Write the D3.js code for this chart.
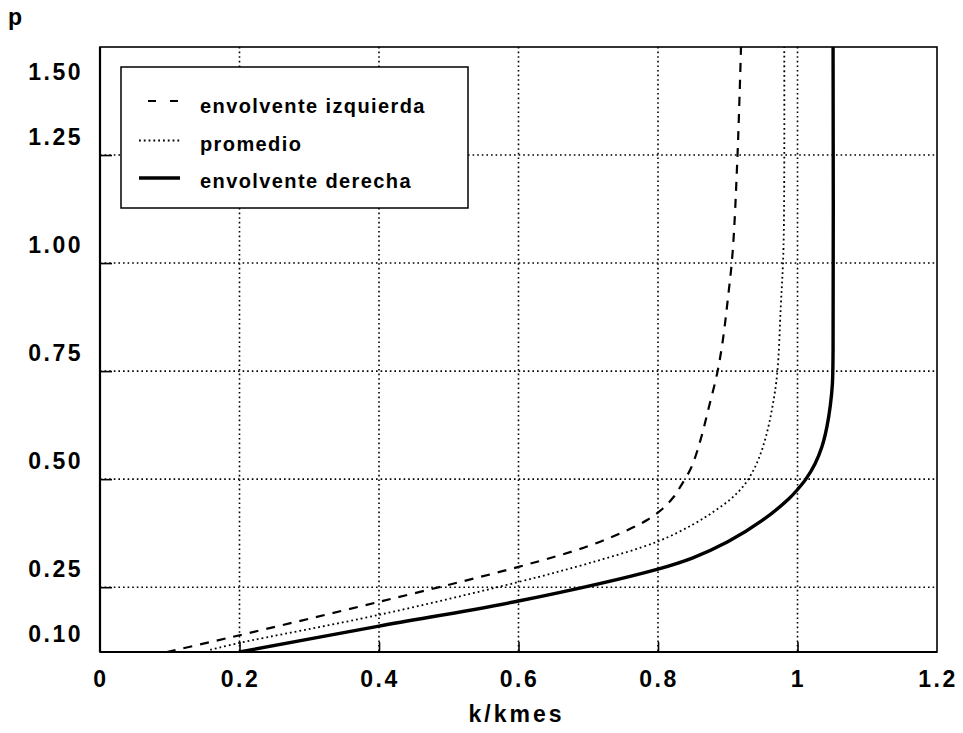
<!DOCTYPE html>
<html>
<head>
<meta charset="utf-8">
<script src="https://d3js.org/d3.v7.min.js"></script>
<style>
  body { margin: 0; background: #fff; }
  text { font-family: "Liberation Sans", Arial, sans-serif; font-weight: bold; fill: #000; }
</style>
</head>
<body>
<div id="chart"></div>
<script>
// k/kmes values (x) and p values (y)
var izqK = [0.096, 0.19, 0.4, 0.6, 0.7, 0.756, 0.785, 0.807, 0.822, 0.833, 0.848, 0.861, 0.873, 0.885, 0.893, 0.900, 0.907, 0.914, 0.919];
var izqP = [0.10, 0.135, 0.216, 0.297, 0.345, 0.382, 0.406, 0.432, 0.458, 0.485, 0.528, 0.591, 0.667, 0.746, 0.822, 0.915, 1.025, 1.25, 1.50];

var promK = [0.158, 0.2, 0.4, 0.6, 0.7, 0.8, 0.85, 0.88, 0.905, 0.922, 0.935, 0.945, 0.955, 0.964, 0.971, 0.976, 0.980, 0.981];
var promP = [0.105, 0.121, 0.186, 0.262, 0.305, 0.356, 0.395, 0.425, 0.455, 0.483, 0.515, 0.55, 0.60, 0.667, 0.746, 0.899, 1.04, 1.50];

var derK = [0.2, 0.4, 0.6, 0.8, 0.85, 0.9, 0.95, 0.988, 1.0, 1.012, 1.025, 1.035, 1.042, 1.047, 1.05, 1.051, 1.051];
var derP = [0.10, 0.16, 0.218, 0.292, 0.318, 0.355, 0.405, 0.455, 0.476, 0.50, 0.535, 0.575, 0.62, 0.67, 0.72, 0.80, 1.50];

var xTicks = [0, 0.2, 0.4, 0.6, 0.8, 1, 1.2];
var xTickLabels = ["0", "0.2", "0.4", "0.6", "0.8", "1", "1.2"];
var yTicks = [0.10, 0.25, 0.50, 0.75, 1.00, 1.25, 1.50];
var yTickLabels = ["0.10", "0.25", "0.50", "0.75", "1.00", "1.25", "1.50"];

var seriesNames = ["envolvente izquierda", "promedio", "envolvente derecha"];

var W = 963, H = 733;
var margin = { top: 47, right: 26, bottom: 81, left: 100 };
var width = W - margin.left - margin.right,
  height = H - margin.top - margin.bottom;

var series = [
  { name: seriesNames[0], k: izqK, p: izqP, width: 2.2, dash: "9,8", legendDash: "8,14" },
  { name: seriesNames[1], k: promK, p: promP, width: 1.8, dash: "1.8,3", legendDash: "1.8,3" },
  { name: seriesNames[2], k: derK, p: derP, width: 3.4, dash: null, legendDash: null }
];

var x = d3.scaleLinear().domain([0, 1.2]).range([0, width]);
var y = d3.scaleLinear().domain([0.10, 1.50]).range([height, 0]);

var svg = d3.select("#chart").append("svg").attr("width", W).attr("height", H);
var g = svg.append("g").attr("transform", "translate(" + margin.left + "," + margin.top + ")");

g.append("defs")
  .append("clipPath")
  .attr("id", "clip")
  .append("rect")
  .attr("width", width)
  .attr("height", height);

// dotted grid
g.append("g")
  .selectAll("line")
  .data(xTicks.slice(1, -1))
  .enter()
  .append("line")
  .attr("x1", function (d) { return x(d); })
  .attr("x2", function (d) { return x(d); })
  .attr("y1", 0)
  .attr("y2", height)
  .attr("stroke", "#000")
  .attr("stroke-width", 1.6)
  .attr("stroke-dasharray", "1.6,3");

g.append("g")
  .selectAll("line")
  .data(yTicks.slice(1, -1))
  .enter()
  .append("line")
  .attr("y1", function (d) { return y(d); })
  .attr("y2", function (d) { return y(d); })
  .attr("x1", 0)
  .attr("x2", width)
  .attr("stroke", "#000")
  .attr("stroke-width", 1.6)
  .attr("stroke-dasharray", "1.6,3");

// inner tick marks, labels drawn separately
var xAxis = g.append("g")
  .attr("transform", "translate(0," + height + ")")
  .call(d3.axisBottom(x).tickValues(xTicks.slice(1, -1)).tickSize(-10).tickFormat(""));
var yAxis = g.append("g")
  .call(d3.axisLeft(y).tickValues(yTicks.slice(1, -1)).tickSize(-12).tickFormat(""));
[xAxis, yAxis].forEach(function (a) {
  a.select(".domain").remove();
  a.selectAll(".tick line").attr("stroke", "#000").attr("stroke-width", 1.6);
});

// curves
var line = d3.line()
  .x(function (d) { return x(d[0]); })
  .y(function (d) { return y(d[1]); })
  .curve(d3.curveCatmullRom.alpha(0.5));

g.append("g")
  .attr("clip-path", "url(#clip)")
  .selectAll("path")
  .data(series)
  .enter()
  .append("path")
  .attr("d", function (s) {
    return line(s.k.map(function (v, i) { return [v, s.p[i]]; }));
  })
  .attr("fill", "none")
  .attr("stroke", "#000")
  .attr("stroke-width", function (s) { return s.width; })
  .attr("stroke-dasharray", function (s) { return s.dash; });

// frame
g.append("rect")
  .attr("width", width)
  .attr("height", height)
  .attr("fill", "none")
  .attr("stroke", "#000")
  .attr("stroke-width", 1.6);
g.append("line")
  .attr("x1", 0).attr("x2", 0).attr("y1", 0).attr("y2", height)
  .attr("stroke", "#000").attr("stroke-width", 2.2);
g.append("line")
  .attr("x1", 0).attr("x2", width).attr("y1", height).attr("y2", height)
  .attr("stroke", "#000").attr("stroke-width", 2.2);

// tick labels
g.append("g")
  .selectAll("text")
  .data(xTicks)
  .enter()
  .append("text")
  .attr("x", function (d) { return x(d) + 1; })
  .attr("y", height + 35)
  .attr("text-anchor", "middle")
  .attr("font-size", 23)
  .attr("letter-spacing", 2.5)
  .text(function (d, i) { return xTickLabels[i]; });

g.append("g")
  .selectAll("text")
  .data(yTicks)
  .enter()
  .append("text")
  .attr("x", -17)
  .attr("y", function (d) { return Math.max(y(d) - 10, 33); })
  .attr("text-anchor", "end")
  .attr("font-size", 23)
  .attr("letter-spacing", 2.5)
  .text(function (d, i) { return yTickLabels[i]; });

svg.append("text")
  .attr("x", margin.left + width / 2 - 2)
  .attr("y", 722)
  .attr("text-anchor", "middle")
  .attr("font-size", 23)
  .attr("letter-spacing", 3)
  .text("k/kmes");

svg.append("text")
  .attr("x", 8)
  .attr("y", 25)
  .attr("font-size", 23)
  .text("p");

// legend
var legend = g.append("g").attr("transform", "translate(21,20)");
legend.append("rect")
  .attr("width", 347)
  .attr("height", 141)
  .attr("fill", "#fff")
  .attr("stroke", "#000")
  .attr("stroke-width", 1.5);

var item = legend.selectAll(".item")
  .data(series)
  .enter()
  .append("g")
  .attr("class", "item")
  .attr("transform", function (d, i) { return "translate(0," + (46 + i * 37.5) + ")"; });

item.append("line")
  .attr("x1", function (d, i) { return i == 0 ? 27 : 18; })
  .attr("x2", 59)
  .attr("y1", function (d, i) { return i == 0 ? -12 : -10; })
  .attr("y2", function (d, i) { return i == 0 ? -12 : -10; })
  .attr("stroke", "#000")
  .attr("stroke-width", function (d) { return d.width; })
  .attr("stroke-dasharray", function (d) { return d.legendDash; });

item.append("text")
  .attr("x", 79)
  .attr("font-size", 20)
  .attr("letter-spacing", 1.4)
  .text(function (d) { return d.name; });
</script>
</body>
</html>
